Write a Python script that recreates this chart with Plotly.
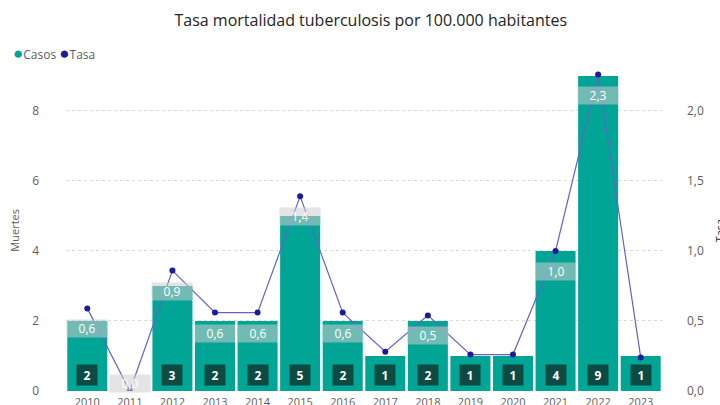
import plotly.graph_objects as go

years = [2010, 2011, 2012, 2013, 2014, 2015, 2016, 2017, 2018, 2019, 2020, 2021, 2022, 2023]
casos = [2, 0, 3, 2, 2, 5, 2, 1, 2, 1, 1, 4, 9, 1]
tasa = [0.59, 0.0, 0.86, 0.56, 0.56, 1.39, 0.56, 0.28, 0.54, 0.26, 0.26, 1.0, 2.26, 0.24]

TEAL = "#01A596"
NAVY = "#1B1B9E"
LINE = "#6363C8"
GRAY = "#605E5C"
FONT = "Open Sans, Segoe UI, sans-serif"

fig = go.Figure()
fig.add_trace(go.Bar(x=years, y=casos, name="Casos", marker=dict(color=TEAL, line=dict(width=0)),
                     yaxis="y"))
fig.add_trace(go.Scatter(x=years, y=tasa, name="Tasa", mode="lines+markers",
                         line=dict(color=LINE, width=1.2),
                         marker=dict(color=NAVY, size=6), yaxis="y2"))

ann = []
# count labels at bar bottoms
for yr, c in zip(years, casos):
    if c > 0:
        ann.append(dict(x=yr, y=0, xref="x", yref="y", yanchor="bottom", yshift=5,
                        text=f"<b>{c}</b>", showarrow=False, bgcolor="#0C4A42",
                        width=18, height=18, font=dict(color="white", size=12, family=FONT)))
# rate labels below markers (hidden where they would collide with a count label)
for yr, c, t in zip(years, casos, tasa):
    if 0 < c < 2:
        continue
    lbl = f"{t:.1f}".replace(".", ",")
    if t <= 0.05:
        pos = dict(y=0, yanchor="bottom", yshift=-2)
    else:
        pos = dict(y=t, yanchor="top", yshift=-11)
    ann.append(dict(x=yr, xref="x", yref="y2", text=lbl, showarrow=False,
                    bgcolor="rgba(205,205,205,0.55)", width=38, height=15,
                    font=dict(color="white", size=12, family=FONT), **pos))

# axis titles
ann.append(dict(x=-0.087, y=0.5, xref="paper", yref="paper", text="Muertes", showarrow=False,
                textangle=-90, xanchor="center", yanchor="middle",
                font=dict(color=GRAY, size=11, family=FONT)))
ann.append(dict(x=1.097, y=0.5, xref="paper", yref="paper", text="Tasa", showarrow=False,
                textangle=-90, xanchor="center", yanchor="middle",
                font=dict(color="#252423", size=11, family=FONT)))
# legend
ann.append(dict(x=-0.093, y=1.056, xref="paper", yref="paper", xanchor="left", yanchor="middle",
                showarrow=False,
                text=f"<span style='color:{TEAL};font-size:17px'>●</span>Casos "
                     f"<span style='color:{NAVY};font-size:17px'>●</span>Tasa",
                font=dict(color=GRAY, size=12, family=FONT)))

fig.update_layout(
    width=720, height=405,
    margin=dict(l=66, r=58, t=70, b=14),
    paper_bgcolor="white", plot_bgcolor="white",
    separators=",.",
    bargap=0.06,
    showlegend=False,
    title=dict(text="Tasa mortalidad tuberculosis por 100.000 habitantes", x=0.515, xanchor="center",
               y=0.95, yanchor="middle", font=dict(size=16, color="#252423", family=FONT)),
    font=dict(family=FONT, color=GRAY, size=11),
    xaxis=dict(type="linear", range=[years[0] - 0.5, years[-1] + 0.5], tickmode="array",
               tickvals=years, ticktext=[str(y) for y in years],
               showgrid=False, showline=False, zeroline=False, ticks="", automargin=False,
               tickfont=dict(size=11, color=GRAY), ticklabelstandoff=3),
    yaxis=dict(range=[0, 9.17], tickvals=[0, 2, 4, 6, 8], showgrid=True, gridcolor="#D9D9D9",
               griddash="dot", gridwidth=1, zeroline=False, showline=False, automargin=False,
               tickfont=dict(size=12, color=GRAY), ticklabelstandoff=26),
    yaxis2=dict(range=[0, 9.17 / 4], tickvals=[0, 0.5, 1.0, 1.5, 2.0], tickformat=".1f",
                overlaying="y", side="right", showgrid=False, zeroline=False, showline=False,
                automargin=False, tickfont=dict(size=12, color=GRAY), ticklabelstandoff=24),
    annotations=ann,
)

fig.write_html("out.html", config={"displayModeBar": False},
               post_script="document.body.style.margin='0px';")
